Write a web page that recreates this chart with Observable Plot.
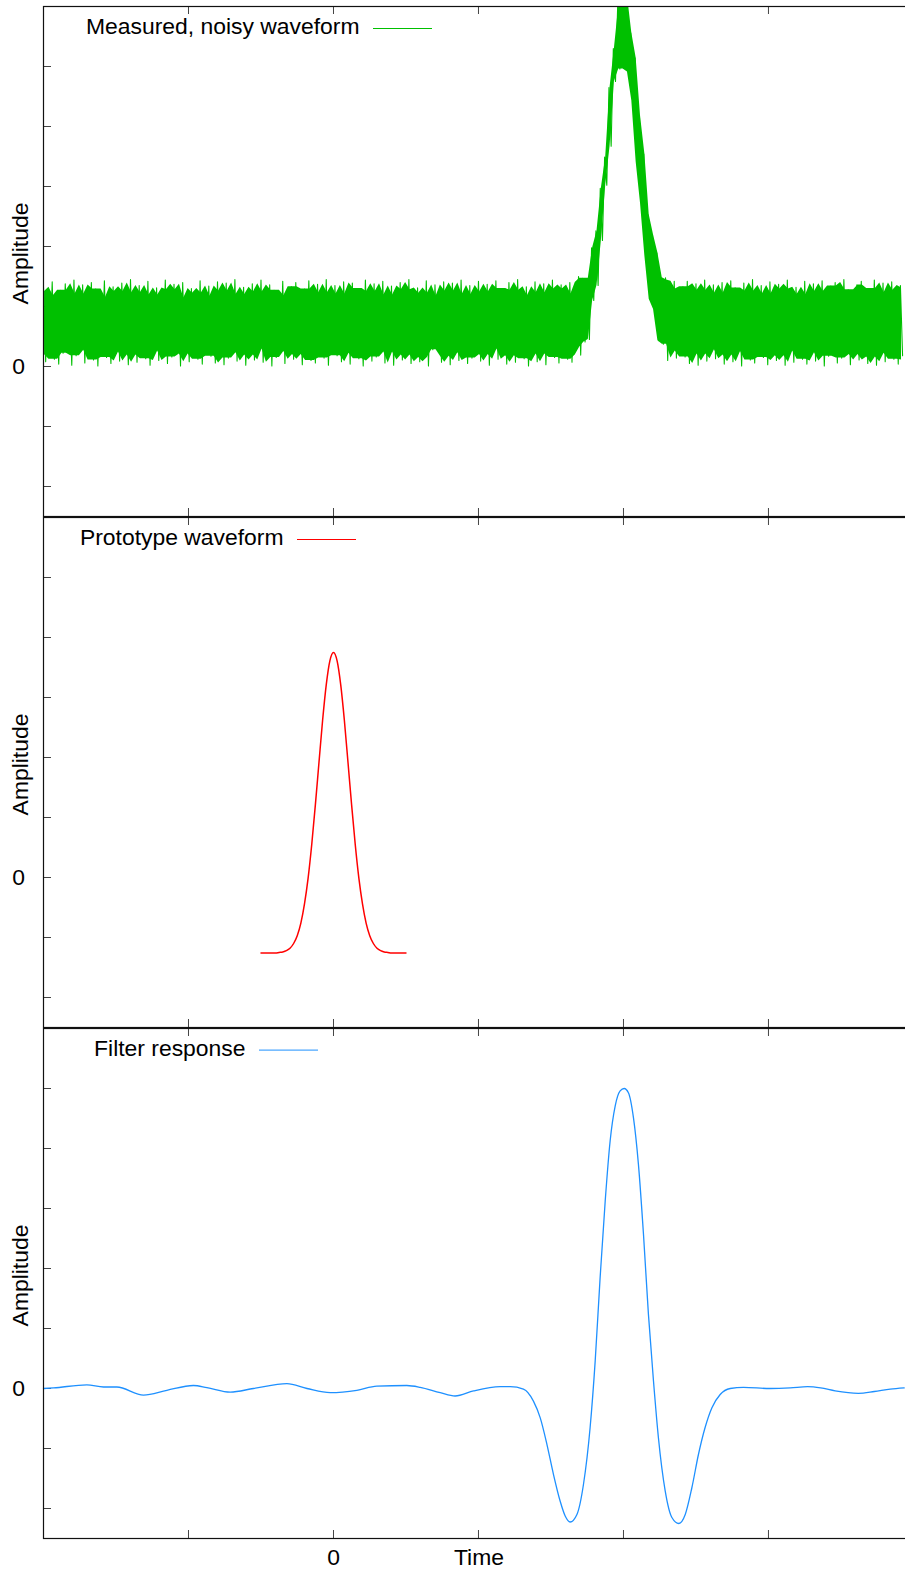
<!DOCTYPE html>
<html><head><meta charset="utf-8">
<script src="https://cdn.jsdelivr.net/npm/d3@7"></script>
<script src="https://cdn.jsdelivr.net/npm/@observablehq/plot@0.6"></script>
<style>
html,body{margin:0;padding:0;background:#fff;}
#chart{position:relative;width:905px;height:1571px;overflow:hidden;background:#fff;}
#chart > div{position:absolute;left:0;}
</style></head><body><div id="chart"></div>
<script>
// ---- axes ----
const xTicks = [-1, 0, 1, 2, 3];
const yTicks = [-2, -1, 0, 1, 2, 3, 4, 5, 6];
const xDomain = [-2, 3.952];
const yDomain = [-2.5, 6];
const xTickLabels = [0];
const yTickLabels = [0];

// ---- panel 1: measured noisy waveform (sampled every 0.015 from t = -2) ----
const noiseT0 = -2;
const noiseStep = 0.015;
const noise = [
1.32,0.08,1.18,0.31,1.41,0.12,0.95,0.04,1.27,0.22,1.38,0.47,1.09,0.02,1.44,0.18,1.21,0.35,1.36,0.06,
1.02,0.27,1.40,0.11,1.29,0.01,1.15,0.39,1.43,0.15,0.88,0.05,1.33,0.24,1.25,0.09,1.39,0.52,1.12,0.03,
1.45,0.19,1.23,0.07,1.35,0.30,0.98,0.13,1.42,0.02,1.19,0.41,1.31,0.10,1.06,0.26,1.44,0.05,1.28,0.16,
1.37,0.33,1.14,0.01,1.40,0.21,0.92,0.08,1.30,0.44,1.22,0.12,1.43,0.04,1.17,0.28,1.34,0.17,1.05,0.06,
1.41,0.36,1.26,0.03,1.39,0.14,1.10,0.23,1.45,0.09,1.20,0.50,1.32,0.02,0.96,0.19,1.38,0.11,1.24,0.29,
1.44,0.07,1.13,0.37,1.36,0.01,1.27,0.15,1.01,0.25,1.42,0.05,1.18,0.40,1.33,0.12,1.40,0.20,0.90,0.03,
1.29,0.32,1.43,0.10,1.16,0.06,1.37,0.45,1.23,0.14,1.45,0.02,1.08,0.27,1.35,0.18,1.21,0.08,1.41,0.38,
1.11,0.04,1.39,0.22,1.30,0.13,0.97,0.01,1.44,0.34,1.25,0.09,1.38,0.16,1.14,0.48,1.42,0.06,1.19,0.24,
1.34,0.02,1.07,0.31,1.40,0.11,1.28,0.19,1.45,0.05,0.93,0.36,1.31,0.08,1.22,0.15,1.43,0.01,1.17,0.28,
1.36,0.42,1.03,0.07,1.41,0.17,1.26,0.03,1.39,0.23,1.12,0.10,1.44,0.33,1.20,0.05,1.35,0.14,0.99,0.39,
1.42,0.09,1.24,0.20,1.37,0.02,1.15,0.29,1.43,0.12,1.30,0.46,1.08,0.04,1.40,0.18,1.27,0.07,1.45,0.25,
1.18,0.13,1.33,0.01,0.94,0.35,1.41,0.08,1.23,0.21,1.38,0.03,1.10,0.30,1.44,0.15,1.29,0.06,1.36,0.40,
1.21,0.12,1.40,0.07,1.19,0.32,1.50,0.19,1.47,0.41,1.36,0.45,1.98,1.10,2.26,1.35,2.97,2.10,3.49,3.02,
4.65,3.67,5.30,4.75,6.01,4.96,6.18,5.00,6.33,4.91,5.56,4.43,5.14,3.41,4.18,2.72,3.54,1.84,2.53,1.12,
2.19,0.95,1.89,0.43,1.44,0.37,1.48,0.10,1.29,0.46,1.42,0.14,1.08,0.26,
1.33,0.16,1.42,0.05,1.11,0.34,1.38,0.02,1.27,0.21,1.44,0.09,0.95,0.28,1.36,0.13,1.22,0.47,1.40,0.04,
1.17,0.19,1.43,0.08,1.31,0.37,1.04,0.01,1.39,0.25,1.26,0.11,1.45,0.06,1.14,0.32,1.35,0.15,1.21,0.03,
1.41,0.41,1.09,0.10,1.37,0.18,1.29,0.02,1.44,0.26,0.91,0.07,1.32,0.35,1.20,0.12,1.42,0.04,1.16,0.23,
1.38,0.09,1.25,0.44,1.43,0.01,1.06,0.17,1.34,0.30,1.40,0.06,1.19,0.14,1.45,0.38,1.28,0.03,1.12,0.20,
1.36,0.11,1.42,0.27,0.98,0.05,1.30,0.16,1.44,0.02,1.23,0.33,1.39,0.08,1.15,0.22,1.41,0.12,1.27,0.04,
1.35,0.18
];

// ---- panel 2: prototype waveform ----
const protoT = [-0.5,-0.475,-0.45,-0.425,-0.4,-0.375,-0.35,-0.325,-0.3,-0.275,-0.25,-0.225,-0.2,-0.175,-0.15,-0.125,-0.1,-0.075,-0.05,-0.025,0,
0.025,0.05,0.075,0.1,0.125,0.15,0.175,0.2,0.225,0.25,0.275,0.3,0.325,0.35,0.375,0.4,0.425,0.45,0.475,0.5];
const protoV = [-1.26,-1.26,-1.26,-1.26,-1.26,-1.25,-1.24,-1.22,-1.18,-1.10,-0.97,-0.76,-0.44,-0.01,0.55,1.21,1.92,2.62,3.21,3.61,3.75,
3.61,3.21,2.62,1.92,1.21,0.55,-0.01,-0.44,-0.76,-0.97,-1.10,-1.18,-1.22,-1.24,-1.25,-1.26,-1.26,-1.26,-1.26,-1.26];

// ---- panel 3: filter response ----
const filterT = [-2.0,-1.931,-1.701,-1.586,-1.494,-1.310,-1.149,-0.966,-0.873,-0.712,-0.552,-0.321,-0.183,-0.023,0.161,0.299,0.506,0.598,0.736,0.839,0.966,1.150,1.219,1.310,1.379,1.426,1.472,1.517,1.563,1.598,1.632,1.679,1.724,1.770,1.805,1.839,1.874,1.908,1.943,1.977,2.005,2.034,2.069,2.103,2.138,2.172,2.207,2.241,2.288,2.334,2.382,2.426,2.472,2.517,2.563,2.610,2.667,2.736,2.828,3.01,3.15,3.27,3.36,3.46,3.62,3.73,3.84,3.936];
const filterV = [0.0,0.01,0.06,0.025,0.025,-0.11,-0.03,0.05,0.015,-0.06,0.0,0.08,0.0,-0.07,-0.03,0.04,0.05,0.02,-0.07,-0.125,-0.04,0.03,0.03,-0.01,-0.21,-0.49,-0.93,-1.43,-1.875,-2.125,-2.225,-2.10,-1.60,-0.65,0.46,1.85,3.125,4.125,4.71,4.96,5.00,4.93,4.51,3.74,2.57,1.24,0.125,-0.82,-1.71,-2.15,-2.25,-2.10,-1.65,-1.10,-0.65,-0.32,-0.10,0.0,0.02,0.0,0.01,0.03,0.01,-0.04,-0.08,-0.05,-0.01,0.01];

const legendLabels = ["Measured, noisy waveform", "Prototype waveform", "Filter response"];
const seriesColors = ["#00c000", "#ff0000", "#1e90ff"];
const yLabel = "Amplitude";
const xLabel = "Time";

// ---- tables built from the arrays ----
const noiseData = noise.map((v, i) => ({t: noiseT0 + i * noiseStep, v}));
// solid core of the dense trace (median swing of neighbouring sample pairs)
const pairs = [];
for (let i = 0; i + 1 < noise.length; i += 2) {
  pairs.push({t: noiseT0 + (i + 0.5) * noiseStep, lo: Math.min(noise[i], noise[i + 1]), hi: Math.max(noise[i], noise[i + 1])});
}
const noiseCore = pairs.map((p, j) => {
  const nb = pairs.slice(Math.max(0, j - 1), j + 2);
  let lo = d3.median(nb, d => d.lo), hi = d3.median(nb, d => d.hi);
  if (lo > hi) { lo = p.lo; hi = p.hi; }
  return {t: p.t, lo, hi};
});
const protoData = protoT.map((t, i) => ({t, v: protoV[i]}));
const filterData = filterT.map((t, i) => ({t, v: filterV[i]}));

const W = 905, H = 510, mL = 43, mR = -1, mT = 6;
const FS = 22.9;
const FONT = "'Liberation Sans', Arial, Helvetica, sans-serif";
const chart = document.getElementById("chart");

function panel(top, marginBottom, marks) {
  const svg = Plot.plot({
    width: W, height: mT + H + marginBottom,
    marginLeft: mL, marginRight: mR, marginTop: mT, marginBottom,
    x: {domain: xDomain, axis: null},
    y: {domain: yDomain, axis: null},
    style: {background: "transparent", overflow: "visible", fontFamily: FONT, color: "#000"},
    marks: [
      Plot.ruleX(xTicks, {x: d => d, insetBottom: H - 8, stroke: "#444", strokeWidth: 1}),
      Plot.ruleX(xTicks, {x: d => d, insetTop: H - 8, stroke: "#444", strokeWidth: 1}),
      Plot.ruleY(yTicks, {y: d => d, insetRight: W - mL - mR - 8, stroke: "#444", strokeWidth: 1}),
      ...marks,
      Plot.frame({stroke: "#111", strokeWidth: 1.2}),
      Plot.text(yTickLabels, {y: d => d, text: d => String(d), frameAnchor: "left", textAnchor: "middle", lineAnchor: "middle", dx: -25, fontSize: FS, fill: "#000"}),
      Plot.text([yLabel], {text: d => d, frameAnchor: "left", textAnchor: "middle", lineAnchor: "middle", dx: -23, dy: -8, rotate: -90, fontSize: FS, fill: "#000"})
    ]
  });
  const div = document.createElement("div");
  div.style.top = top + "px";
  div.appendChild(svg);
  chart.appendChild(div);
}

function legend(i, dxText, dyText, insetLeft, insetRight, dyLine) {
  return [
    Plot.text([legendLabels[i]], {text: d => d, frameAnchor: "top-left", dx: dxText, dy: dyText, textAnchor: "end", lineAnchor: "middle", fontSize: FS, fill: "#000"}),
    Plot.ruleY([yDomain[1]], {y: d => d, dy: dyLine, insetLeft, insetRight, stroke: seriesColors[i], strokeWidth: 1})
  ];
}

panel(0, 6, [
  Plot.areaY(noiseCore, {x: "t", y1: "lo", y2: "hi", fill: seriesColors[0], clip: true}),
  Plot.line(noiseData, {x: "t", y: "v", stroke: seriesColors[0], strokeWidth: 1.1, clip: true}),
  ...legend(0, 316, 20.5, 330, 474, 22)
]);

panel(511, 6, [
  Plot.line(protoData, {x: "t", y: "v", stroke: seriesColors[1], strokeWidth: 1.5, curve: "monotone-x"}),
  ...legend(1, 240, 20.5, 254, 550, 22)
]);

panel(1022, 33, [
  Plot.line(filterData, {x: "t", y: "v", stroke: seriesColors[2], strokeWidth: 1.3, curve: "monotone-x"}),
  ...legend(2, 202, 20.3, 216, 588, 21.6),
  Plot.text(xTickLabels, {x: d => d, text: d => String(d), frameAnchor: "bottom", lineAnchor: "middle", dy: 19, fontSize: FS, fill: "#000"}),
  Plot.text([xLabel], {text: d => d, frameAnchor: "bottom", lineAnchor: "middle", dx: 4, dy: 19, fontSize: FS, fill: "#000"})
]);
</script>
</body></html>
